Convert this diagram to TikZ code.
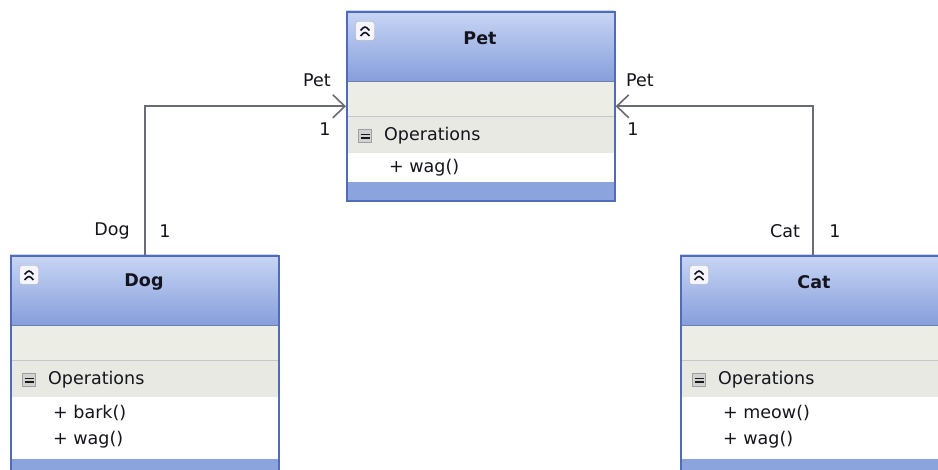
\documentclass[tikz,border=0pt]{standalone}
\usepackage{fontspec}
\setmainfont{DejaVu Sans}
\usetikzlibrary{arrows.meta,calc}

\definecolor{frameblue}{RGB}{80,108,184}
\definecolor{headtop}{RGB}{200,214,244}
\definecolor{headbot}{RGB}{134,158,220}
\definecolor{attrgrey}{RGB}{236,237,229}
\definecolor{opsgrey}{RGB}{232,233,226}
\definecolor{bandblue}{RGB}{140,164,222}
\definecolor{sepgrey}{RGB}{196,198,200}
\definecolor{linegrey}{RGB}{105,107,118}
\definecolor{textdark}{RGB}{20,20,30}

\tikzset{
  boxframe/.style={draw=frameblue, line width=1.6pt, inner sep=0pt,
    anchor=north west, minimum width=268pt},
  titletext/.style={font=\fontsize{17.5}{20}\selectfont\bfseries, text=textdark, inner sep=0pt},
  bodytext/.style={font=\fontsize{17.5}{20}\selectfont, text=textdark, inner sep=0pt, anchor=west},
  endlabel/.style={font=\fontsize{17.5}{20}\selectfont, text=textdark, inner sep=0pt},
  assoc/.style={draw=linegrey, line width=1.6pt,
    -{Straight Barb[length=12pt,width=23pt,line width=1.6pt]}},
  collapsebox/.style={draw=gray!70, fill=blue!4, rounded corners=2.5pt,
    minimum size=19pt, inner sep=0pt,
    path picture={
      \draw[line width=1.6pt, textdark]
        ($(path picture bounding box.center)+(-4.5pt,0.5pt)$) -- ++(4.5pt,4.5pt) -- ++(4.5pt,-4.5pt);
      \draw[line width=1.6pt, textdark]
        ($(path picture bounding box.center)+(-4.5pt,-5pt)$) -- ++(4.5pt,4.5pt) -- ++(4.5pt,-4.5pt);
    }},
  minusbox/.style={draw=gray!75, fill=gray!35, minimum width=13pt, minimum height=13pt,
    inner sep=0pt,
    path picture={
      \draw[line width=1.3pt, gray!20!black]
        ($(path picture bounding box.west)+(2pt,1.5pt)$) -- ++(9pt,0pt);
      \draw[line width=1.3pt, gray!20!black]
        ($(path picture bounding box.west)+(2pt,-2pt)$) -- ++(9pt,0pt);
    }},
}

% class box: name, left, top, height, title
\newcommand\umlclass[5]{%
  \begin{scope}[shift={(#2,#3)}]
    \shade[top color=headtop, bottom color=headbot] (0,0) rectangle (268,70);
    \fill[attrgrey] (0,70) rectangle (268,106);
    \fill[opsgrey] (0,106) rectangle (268,142);
    \fill[white] (0,142) rectangle (268,#4-18);
    \fill[bandblue] (0,#4-18) rectangle (268,#4);
    \draw[sepgrey, line width=1pt] (0,106) -- (268,106);
    \draw[headbot!80!black, line width=0.8pt] (0,70) -- (268,70);
    \node[collapsebox] (#1-collapse) at (19,20) {};
    \node[titletext] (#1-title) at (134,27) {#5};
    \node[minusbox] (#1-minus) at (19,125) {};
    \node[bodytext] (#1-ops) at (38,125) {Operations};
  \end{scope}
  \node[boxframe, minimum height=#4pt] (#1) at (#2,#3) {};
}

\begin{document}
\begin{tikzpicture}[x=1pt,y=-1pt]
  \useasboundingbox (0,0) rectangle (938,470);
  \clip (0,0) rectangle (938,470);
  \fill[white] (0,0) rectangle (938,470);

  % classes
  \umlclass{pet}{346}{11}{189}{Pet}
  \umlclass{dog}{10}{255}{222}{Dog}
  \umlclass{cat}{680}{255}{222}{Cat}

  % operations
  \node[bodytext] (petwag)  at (389,168) {+ wag()};
  \node[bodytext] (dogbark) at (53,413) {+ bark()};
  \node[bodytext] (dogwag)  at (53,440) {+ wag()};
  \node[bodytext] (catmeow) at (723,413) {+ meow()};
  \node[bodytext] (catwag)  at (723,440) {+ wag()};

  % associations
  \draw[assoc] ([xshift=135pt]dog.north west) |- (pet.west);
  \draw[assoc] ([xshift=133pt]cat.north west) |- (pet.east);

  % association end labels
  \node[endlabel] (dogpetrole) at (317,80)  {Pet};
  \node[endlabel] (dogpetmult) at (325,129) {1};
  \node[endlabel] (dogrole)    at (112,231) {Dog};
  \node[endlabel] (dogmult)    at (165,231) {1};
  \node[endlabel] (catpetrole) at (640,80)  {Pet};
  \node[endlabel] (catpetmult) at (633,129) {1};
  \node[endlabel] (catrole)    at (785,231) {Cat};
  \node[endlabel] (catmult)    at (835,231) {1};
\end{tikzpicture}
\end{document}
